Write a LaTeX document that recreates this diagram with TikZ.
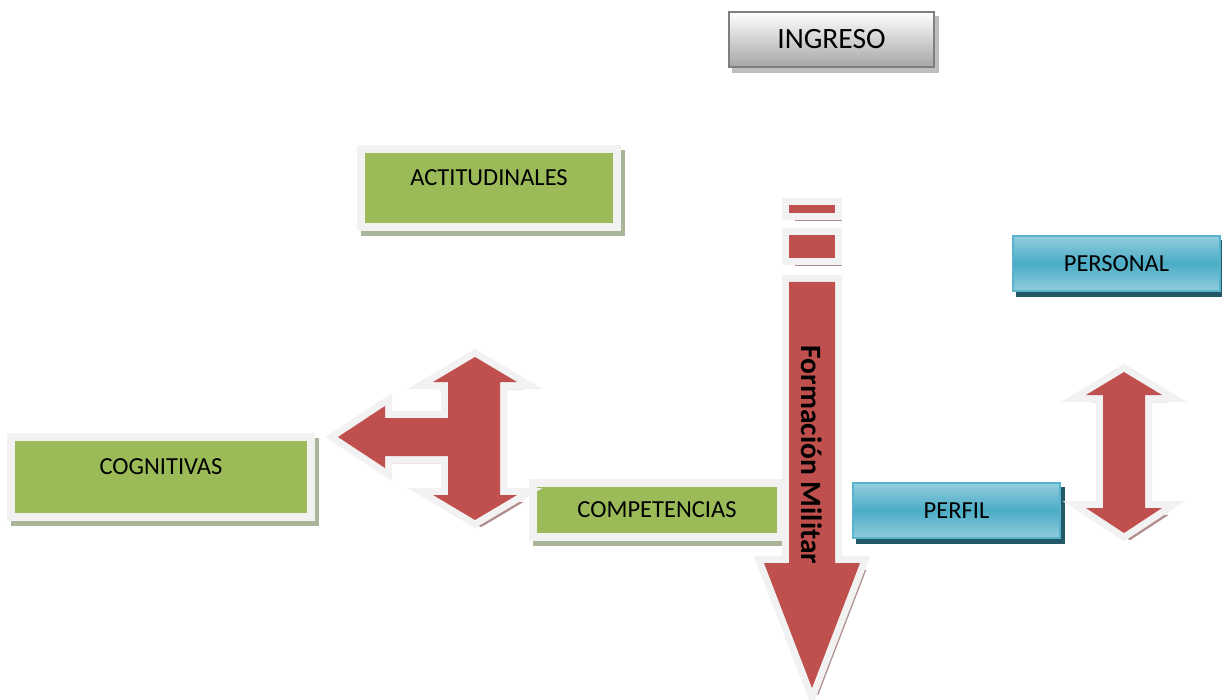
\documentclass[tikz,border=0pt]{standalone}
\usepackage{fontspec}
\setmainfont{Carlito}
\usepackage{tikz}

\definecolor{verde}{RGB}{155,187,89}
\definecolor{rojo}{RGB}{192,80,77}
\definecolor{azul}{RGB}{75,172,198}
\definecolor{azulclaro}{RGB}{146,205,221}
\definecolor{azulborde}{RGB}{88,180,204}
\definecolor{azulsombra}{RGB}{33,89,104}
\definecolor{marco}{RGB}{242,242,242}
\definecolor{sombraverde}{RGB}{170,180,152}
\definecolor{sombraroja}{RGB}{176,140,140}
\definecolor{gris}{RGB}{127,127,127}
\definecolor{grisclaro}{RGB}{190,190,190}

\begin{document}
\begin{tikzpicture}[x=1pt, y=-1pt,
 sombra/.style={
    preaction={draw=#1, fill=#1, transform canvas={shift={(4,5)}}}
   },
 sombraflecha/.style={
    preaction={draw=#1, fill=#1, transform canvas={shift={(6,7)}}}
   },
 caja/.style={
    rectangle,
    draw=marco,
    line width=8pt,
    fill=verde,
    sombra=sombraverde,
    align=center,
    font=\fontsize{24.5}{29}\selectfont
   },
 cajaazul/.style={
    rectangle,
    draw=azulborde,
    line width=1.5pt,
    top color=azulclaro,
    bottom color=azulclaro,
    middle color=azul,
    sombra=azulsombra,
    minimum width=207pt,
    minimum height=55pt,
    font=\fontsize{24.5}{29}\selectfont
   },
 cajagris/.style={
    rectangle,
    draw=gris,
    line width=2pt,
    top color=white,
    bottom color=black!35,
    sombra=grisclaro,
    minimum width=205pt,
    minimum height=55pt,
    font=\fontsize{29.5}{34}\selectfont
   },
 flecha/.style={
    draw=marco,
    fill=marco,
    line width=14pt,
    line join=miter,
    sombraflecha=sombraroja,
    postaction={fill=rojo}
   }
 ]
 \useasboundingbox (0,0) rectangle (1222,700);

 %ingreso
 \node[cajagris] (ingreso) at (831.5,39.5) {INGRESO};

 %competencias
 \node[caja, minimum width=256pt, minimum height=78pt, text depth=20pt] (actitud) at (489,188) {ACTITUDINALES};
 \node[caja, minimum width=300pt, minimum height=80pt, text depth=20pt] (cognit) at (161,477) {COGNITIVAS};
 \node[caja, minimum width=248pt, minimum height=54pt] (compet) at (657,510) {COMPETENCIAS};

 %perfil
 \node[cajaazul] (personal) at (1116.5,263.5) {PERSONAL};
 \node[cajaazul] (perfil) at (956.5,510.5) {PERFIL};

 %flecha formación militar
 \path[flecha] (789,205) rectangle (835,213);
 \path[flecha] (789,235) rectangle (835,258);
 \path[flecha] (789,282) -- (835,282) -- (835,563) -- (860,563) -- (812,688)
   -- (764,563) -- (789,563) -- cycle;
 \node[rotate=-90, font=\bfseries\fontsize{29.5}{34}\selectfont] (formacion) at (812,455) {Formación Militar};

 %flecha de tres puntas
 \path[flecha] (475,357) -- (517,382) -- (500,382) -- (500,495) -- (517,495)
   -- (475,520) -- (433,495) -- (448,495) -- (448,456) -- (385,456)
   -- (385,468) -- (338,437) -- (385,406) -- (385,418) -- (448,418)
   -- (448,382) -- (433,382) -- cycle;

 %flecha doble
 \path[flecha] (1124,372) -- (1162,395) -- (1145,395) -- (1145,508) -- (1162,508)
   -- (1124,533) -- (1086,508) -- (1103,508) -- (1103,395) -- (1086,395) -- cycle;
\end{tikzpicture}
\end{document}
